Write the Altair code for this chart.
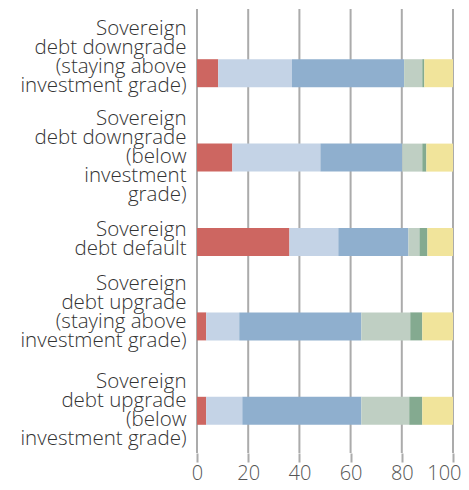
import altair as alt
import pandas as pd

categories = [
    "Sovereign|debt downgrade|(staying above|investment grade)",
    "Sovereign|debt downgrade|(below|investment |grade)",
    "Sovereign|debt default",
    "Sovereign|debt upgrade|(staying above|investment grade)",
    "Sovereign|debt upgrade|(below|investment grade)",
]
series = ["s1", "s2", "s3", "s4", "s5", "s6"]
colors = ["#CD6661", "#C4D3E6", "#8FAFCE", "#BFCFC3", "#84AA90", "#F1E49B"]
values = [
    [8.3, 28.8, 43.8, 7.1, 0.8, 11.2],
    [13.8, 34.4, 32.0, 7.8, 1.6, 10.4],
    [36.1, 19.1, 27.4, 4.3, 3.1, 10.0],
    [3.6, 12.9, 47.7, 19.1, 4.7, 12.0],
    [3.6, 14.1, 46.5, 18.7, 5.1, 12.0],
]
x_ticks = [0, 20, 40, 60, 80, 100]

rows = []
for c, vals in zip(categories, values):
    for i, (s, v) in enumerate(zip(series, vals)):
        rows.append({"category": c, "series": s, "idx": i, "value": v})
df = pd.DataFrame(rows)
grid_df = pd.DataFrame({"x": x_ticks})

W, H = 256, 422
FONT = "Open Sans"

xscale = alt.Scale(domain=[0, 100], nice=False)

grid = alt.Chart(grid_df).mark_rule(color="#ABABAB", strokeWidth=2).encode(
    x=alt.X("x:Q", scale=xscale),
    y=alt.value(-22),
    y2=alt.value(H),
)

label_offset = {
    "condition": [
        {"test": f"datum.value == '{categories[0]}'", "value": -44},
        {"test": f"datum.value == '{categories[1]}'", "value": -39},
        {"test": f"datum.value == '{categories[2]}'", "value": -12},
        {"test": f"datum.value == '{categories[3]}'", "value": -42},
    ],
    "value": -29,
}

bars = alt.Chart(df).mark_bar(size=28).encode(
    y=alt.Y(
        "category:N",
        sort=categories,
        scale=alt.Scale(paddingInner=0.668, paddingOuter=0.334),
        axis=alt.Axis(
            title=None,
            labelExpr="split(datum.label, '|')",
            labelFont=FONT,
            labelFontSize=20.5,
            labelFontWeight=300,
            labelLineHeight=19,
            labelColor="#333333",
            labelPadding=11,
            labelLimit=0,
            ticks=False,
            domain=False,
            labelOffset=label_offset,
        ),
    ),
    x=alt.X(
        "value:Q",
        stack="zero",
        scale=xscale,
        axis=alt.Axis(
            title=None,
            values=x_ticks,
            grid=False,
            domain=False,
            ticks=True,
            tickSize=9,
            tickWidth=2,
            tickColor="#ABABAB",
            labelFont=FONT,
            labelFontSize=20,
            labelFontWeight=300,
            labelColor="#555555",
            labelBaseline="alphabetic",
            labelPadding=17,
            labelAlign={"condition": {"test": "datum.value == 100", "value": "right"}, "value": "center"},
            labelOffset={"condition": {"test": "datum.value == 100", "value": 8}, "value": 0},
        ),
    ),
    color=alt.Color("series:N", scale=alt.Scale(domain=series, range=colors), legend=None),
    order=alt.Order("idx:Q", sort="ascending"),
)

chart = alt.layer(grid, bars).properties(
    width=W,
    height=H,
    autosize=alt.AutoSizeParams(type="none"),
    padding={"left": 189, "top": 23, "right": 8, "bottom": 29},
).configure_view(stroke=None)

chart.save("out.html", embed_options={"renderer": "svg", "actions": False})
